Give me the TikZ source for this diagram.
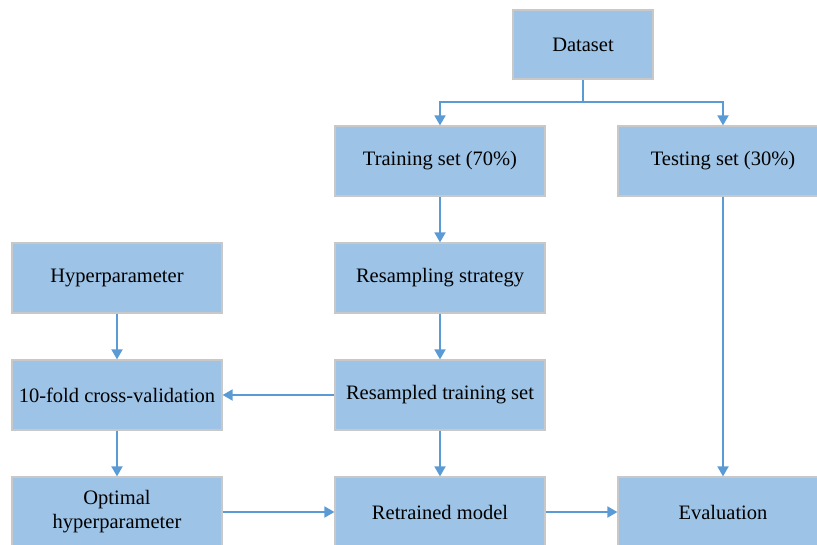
\documentclass[tikz,border=0pt]{standalone}
\usepackage{fontspec}
\setmainfont{Liberation Serif}
\usetikzlibrary{arrows.meta}
\definecolor{boxfill}{HTML}{9DC3E6}
\definecolor{boxline}{HTML}{C8C8C8}
\definecolor{arrowc}{HTML}{5B9BD5}
\begin{document}
\begin{tikzpicture}[x=1pt,y=-1pt,
  box/.style={draw=boxline, line width=1.2pt, fill=boxfill, minimum width=210pt, minimum height=70pt,
    inner sep=0pt, align=center, font=\fontsize{20.5}{24}\selectfont, text=black},
  conn/.style={draw=arrowc, line width=1.8pt, -{Triangle[length=10pt,width=11pt]}},
  plain/.style={draw=arrowc, line width=1.8pt}]
\useasboundingbox (0,0) rectangle (817,544);
\clip (0,0) rectangle (817,544);
\node[box, minimum width=140pt, minimum height=69pt] (ds) at (583,44.5) {\raisebox{-1.5pt}{Dataset}};
\node[box] (tr) at (440,161) {\raisebox{-1.5pt}{Training set (70\%)}};
\node[box] (te) at (723,161) {\raisebox{-1.5pt}{Testing set (30\%)}};
\node[box] (hp) at (117,278) {\raisebox{-1.5pt}{Hyperparameter}};
\node[box] (rs) at (440,278) {\raisebox{-1.5pt}{Resampling strategy}};
\node[box] (cv) at (117,395) {\raisebox{-1.5pt}{10-fold cross-validation}};
\node[box] (rt) at (440,395) {\raisebox{-1.5pt}{Resampled training set}};
\node[box] (op) at (117,512) {\raisebox{-1.5pt}{Optimal}\\[0pt]\raisebox{-1.5pt}{hyperparameter}};
\node[box] (rm) at (440,512) {\raisebox{-1.5pt}{Retrained model}};
\node[box] (ev) at (723,512) {\raisebox{-1.5pt}{Evaluation}};
\coordinate (split) at (583,102);
\draw[plain] (ds.south) -- (split);
\draw[conn] (split) -| (tr.north);
\draw[conn] (split) -| (te.north);
\draw[conn] (tr) -- (rs);
\draw[conn] (rs) -- (rt);
\draw[conn] (rt) -- (cv);
\draw[conn] (rt) -- (rm);
\draw[conn] (hp) -- (cv);
\draw[conn] (cv) -- (op);
\draw[conn] (op) -- (rm);
\draw[conn] (rm) -- (ev);
\draw[conn] (te) -- (ev);
\end{tikzpicture}
\end{document}
